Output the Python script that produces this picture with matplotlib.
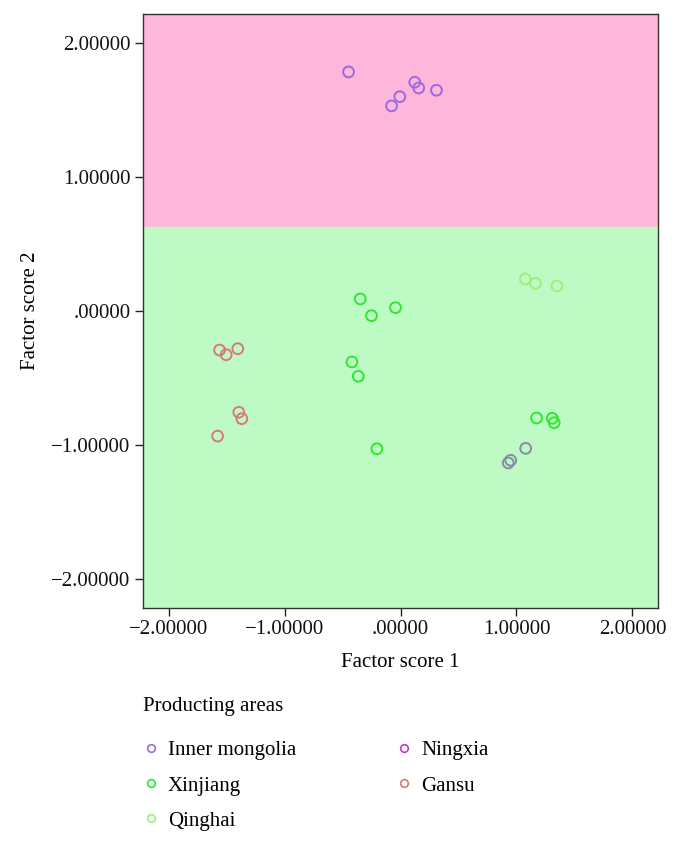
import matplotlib.pyplot as plt
from matplotlib.lines import Line2D

# factor scores
inner_x = [-0.448, -0.077, -0.006, 0.123, 0.157, 0.310]
inner_y = [1.787, 1.533, 1.602, 1.710, 1.667, 1.650]

xinjiang_x = [-0.347, -0.250, -0.043, -0.419, -0.364, -0.204, 1.173, 1.308, 1.325]
xinjiang_y = [0.090, -0.035, 0.025, -0.381, -0.488, -1.030, -0.800, -0.802, -0.835]

qinghai_x = [1.076, 1.164, 1.348]
qinghai_y = [0.239, 0.207, 0.187]

ningxia_x = [1.079, 0.950, 0.929]
ningxia_y = [-1.027, -1.116, -1.136]

gansu_x = [-1.560, -1.503, -1.403, -1.394, -1.368, -1.577]
gansu_y = [-0.292, -0.327, -0.282, -0.757, -0.805, -0.935]

area_names = ["Inner mongolia", "Xinjiang", "Qinghai", "Ningxia", "Gansu"]
area_colors = ["#9a6ae0", "#2ee82e", "#9def7c", "#cc33cc", "#d87878"]
boundary = 0.63
ticks = [-2, -1, 0, 1, 2]
tick_labels = ["\u22122.00000", "\u22121.00000", ".00000", "1.00000", "2.00000"]

plt.rcParams["font.family"] = ["Liberation Serif", "DejaVu Serif"]
plt.rcParams["font.size"] = 15

fig = plt.figure(figsize=(6.82, 8.43), dpi=100)
ax = fig.add_axes([0.2097, 0.2788, 0.7551, 0.7046])

lim = 2.22
ax.set_xlim(-lim, lim)
ax.set_ylim(-lim, lim)
ax.axhspan(boundary, lim, color="#feb6da", zorder=0)
ax.axhspan(-lim, boundary, color="#befbc4", zorder=0)

groups = [
    (inner_x, inner_y, area_colors[0]),
    (xinjiang_x, xinjiang_y, area_colors[1]),
    (qinghai_x, qinghai_y, area_colors[2]),
    (ningxia_x, ningxia_y, "#8a8aa8"),
    (gansu_x, gansu_y, area_colors[4]),
]
for gx, gy, c in groups:
    ax.scatter(gx, gy, s=60, facecolors="none", edgecolors=c, linewidths=1.4, zorder=3)

ax.set_xticks(ticks)
ax.set_xticklabels(tick_labels)
ax.set_yticks(ticks)
ax.set_yticklabels(tick_labels)
ax.tick_params(length=6, width=1, colors="#222222", labelcolor="#111111", pad=3)
for sp in ax.spines.values():
    sp.set_color("#333333")
    sp.set_linewidth(1)

ax.set_xlabel("Factor score 1", labelpad=10)
ax.set_ylabel("Factor score 2", labelpad=8)

# legend title placed on its own, entries below
fig.text(0.2097, 1 - 707 / 843, "Producting areas", ha="left", va="center")

handles = [Line2D([], [], linestyle="none", marker="o", markersize=5.5,
                  markerfacecolor="none", markeredgecolor=c, markeredgewidth=1.2)
           for c in area_colors]
fig.legend(handles, area_names, ncol=2,
           loc="upper left", bbox_to_anchor=(0.182, 1 - 722 / 843),
           frameon=False, handlelength=0.8, handletextpad=0.4,
           columnspacing=4.8, labelspacing=0.75, fontsize=15)

fig.savefig("out.png", dpi=100)
